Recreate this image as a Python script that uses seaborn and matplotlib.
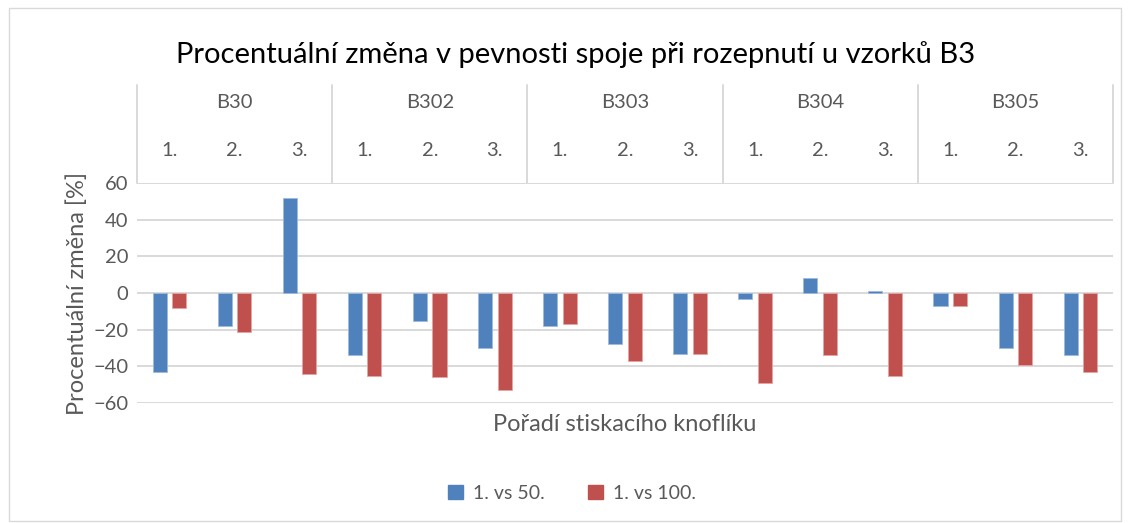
import matplotlib
matplotlib.use("Agg")
import matplotlib.pyplot as plt
import matplotlib.patches as mpatches
import seaborn as sns
import pandas as pd

# data
groups = ["B30", "B302", "B303", "B304", "B305"]
orders = ["1.", "2.", "3."]
vs50 = [-43, -18, 52, -34, -15, -30, -18, -28, -33, -3, 8, 1, -7, -30, -34]
vs100 = [-8, -21, -44, -45, -46, -53, -17, -37, -33, -49, -34, -45, -7, -39, -43]
series = ["1. vs 50.", "1. vs 100."]

cats = [g + " " + o for g in groups for o in orders]
df = pd.DataFrame({
    "cat": cats * 2,
    "val": vs50 + vs100,
    "serie": [series[0]] * len(cats) + [series[1]] * len(cats),
})

sns.set_style("white")
plt.rcParams["font.family"] = ["Lato", "DejaVu Sans"]
grey = "#595959"
blue, red = "#4F81BD", "#C0504D"

fig = plt.figure(figsize=(11.3, 5.23), dpi=100)
ax = fig.add_axes([0.1212, 0.2294, 0.8637, 0.4206])

sns.barplot(data=df, x="cat", y="val", hue="serie", order=cats,
            palette=[blue, red], saturation=1, width=0.6, gap=0.28,
            ax=ax, legend=False, zorder=3)
for p, c in zip(ax.patches, [blue] * 15 + [red] * 15):
    p.set_edgecolor("#9BBBE0" if c == blue else "#E6A4A2")
    p.set_linewidth(0.6)

ax.set_ylim(-60, 60)
ax.set_xlim(-0.5, 14.5)
ax.set_yticks(range(-60, 61, 20))
ax.yaxis.grid(True, color="#D9D9D9", linewidth=1.4, zorder=0)
ax.tick_params(axis="y", labelsize=14.5, colors=grey, length=0, pad=6)
ax.set_xticks([])
for s in ax.spines.values():
    s.set_visible(False)
ax.set_ylabel("Procentuální změna [%]", fontsize=17, color=grey, labelpad=4)
ax.set_xlabel("Pořadí stiskacího knoflíku", fontsize=17, color=grey, labelpad=8)

# category header above the plot (two level axis)
tr = ax.get_xaxis_transform()
for i, g in enumerate(groups):
    ax.text(i * 3 + 1, 1.364, g, transform=tr, ha="center", va="center",
            fontsize=14.5, color=grey)
    for j, o in enumerate(orders):
        ax.text(i * 3 + j, 1.15, o, transform=tr, ha="center", va="center",
                fontsize=14.5, color=grey)
for xb in [-0.5, 2.5, 5.5, 8.5, 11.5, 14.5]:
    ax.plot([xb, xb], [1.0, 1.445], transform=tr, color="#D9D9D9",
            linewidth=1.4, clip_on=False)

fig.text(0.509, 0.895, "Procentuální změna v pevnosti spoje při rozepnutí u vzorků B3",
         ha="center", va="center", fontsize=21, color="black")

handles = [mpatches.Patch(color=blue, label=series[0]),
           mpatches.Patch(color=red, label=series[1])]
fig.legend(handles=handles, loc="center", bbox_to_anchor=(0.506, 0.057), ncol=2,
           frameon=False, fontsize=14, labelcolor=grey, handlelength=0.8,
           handleheight=0.8, columnspacing=2.2, handletextpad=0.5)

fig.add_artist(mpatches.Rectangle((0.008, 0.004), 0.984, 0.98, transform=fig.transFigure,
                                  fill=False, edgecolor="#D9D9D9", linewidth=1))

fig.savefig("out.png", dpi=100)
